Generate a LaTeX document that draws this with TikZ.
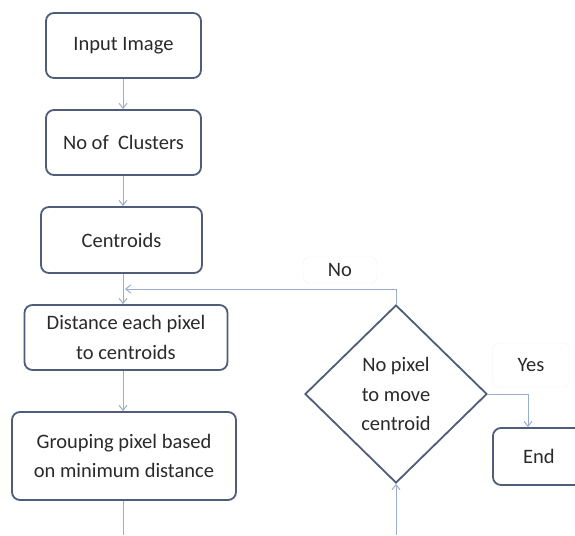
\documentclass[tikz,border=0pt]{standalone}
\usepackage{fontspec}
\setmainfont{Carlito}
\usetikzlibrary{arrows.meta, positioning, shapes.geometric, calc}
\usepackage{xcolor}
\definecolor{boxline}{HTML}{4F5D7A}
\definecolor{flowblue}{HTML}{9AAECB}
\definecolor{inktext}{HTML}{2A2A2A}
\tikzset{
    process/.style={
        rectangle, rounded corners=8pt,
        draw=boxline, fill=white, line width=1.8pt,
        inner sep=0pt, align=center, text=inktext,
        font=\fontsize{20.5}{29.5}\selectfont
    },
    decision/.style={
        diamond, draw=boxline, fill=white, line width=1.8pt,
        inner sep=0pt, align=center, text=inktext,
        font=\fontsize{20.5}{29.5}\selectfont
    },
    tag/.style={
        rectangle, rounded corners=6pt,
        draw=gray!10, fill=white, inner sep=0pt,
        text=inktext, font=\fontsize{20.5}{25}\selectfont
    },
    arrow/.style={-{Straight Barb[length=5pt, width=8pt]}, line width=1pt, draw=flowblue},
    flowline/.style={line width=1pt, draw=flowblue}
}
\begin{document}
\begin{tikzpicture}[x=1pt, y=-1pt]
    \useasboundingbox[fill=white] (0,0) rectangle (575,535);
    \node[process, minimum width=155, minimum height=65] (in) at (123.5,45.5) {Input Image};
    \node[process, minimum width=155, minimum height=65] (clus) at (123.5,142.5) {No of \ Clusters};
    \node[process, minimum width=161, minimum height=66] (cent) at (121.5,240) {Centroids};
    \node[process, minimum width=203, minimum height=65] (dist) at (126,337.5) {Distance each pixel\\to centroids};
    \node[process, minimum width=224, minimum height=88] (grp) at (124,456) {Grouping pixel based\\on minimum distance};
    \node[decision, minimum width=182, minimum height=178] (dec) at (396,394) {No pixel\\to move\\centroid};
    \node[process, minimum width=92, minimum height=57] (end) at (539,456.5) {End};
    \node[tag, minimum width=74, minimum height=26] (no) at (340,270) {No};
    \node[tag, minimum width=77, minimum height=44] (yes) at (531,365) {Yes};
    \coordinate (back) at (123,289);
    \coordinate (gout) at (123,535);
    \coordinate (din) at (396,535);
    \draw[arrow] (in.south -| back) -- (clus.north -| back);
    \draw[arrow] (clus.south -| back) -- (cent.north -| back);
    \draw[arrow] (cent.south -| back) -- (dist.north -| back);
    \draw[arrow] (dist.south -| back) -- (grp.north -| back);
    \draw[flowline] (grp.south -| back) -- (gout);
    \draw[arrow] (din) -- (dec.south);
    \draw[arrow] (dec.north) |- ($(back)+(2,0)$);
    \draw[arrow] (dec.east) -| ($(end.north)+(-11,0)$);
\end{tikzpicture}
\end{document}
